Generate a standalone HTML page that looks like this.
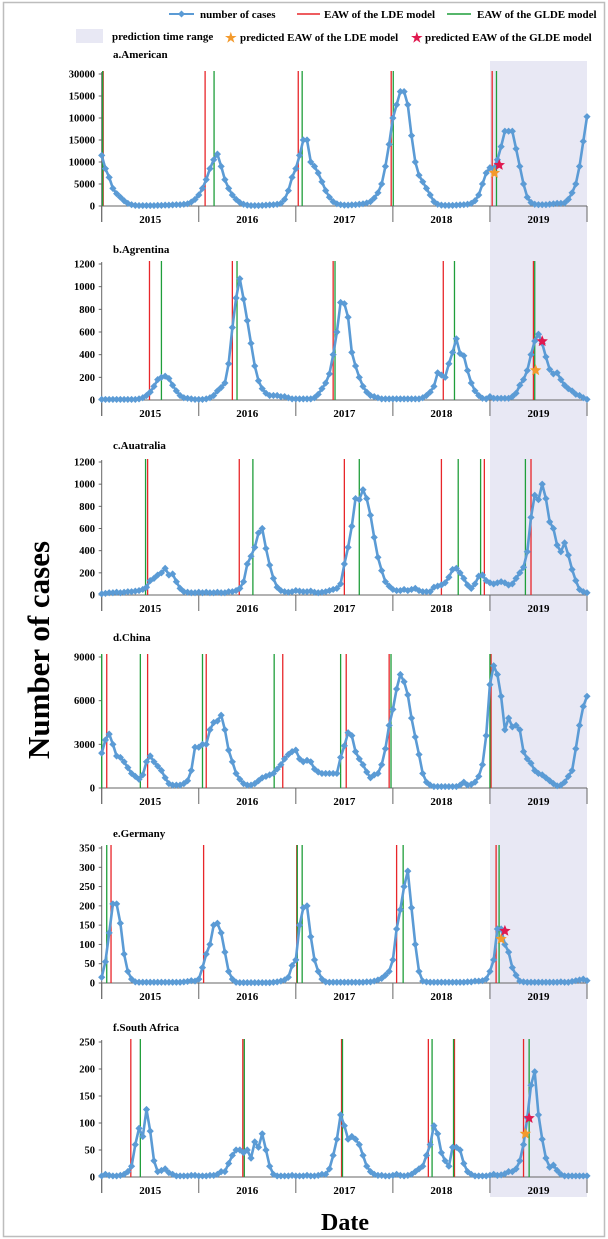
<!DOCTYPE html>
<html><head><meta charset="utf-8">
<style>
html,body{margin:0;padding:0;background:#fff;}
svg{display:block;font-family:"Liberation Serif",serif;font-weight:bold;}
</style></head>
<body>
<svg id="chart" width="608" height="1239" viewBox="0 0 608 1239" xmlns="http://www.w3.org/2000/svg">
<rect x="3.5" y="2.5" width="601" height="1234" fill="#fff" stroke="#bdbdbd" stroke-width="1.5"/>
<rect x="490" y="61" width="97" height="1136" fill="#e8e8f4"/>
<g font-size="11">
  <g>
    <line x1="169" y1="14" x2="194" y2="14" stroke="#5b9bd5" stroke-width="2"/>
    <path d="M181.5 10.5 L185 14 L181.5 17.5 L178 14 Z" fill="#5b9bd5"/>
    <text x="200" y="18">number  of cases</text>
  </g>
  <g>
    <line x1="297" y1="14" x2="320" y2="14" stroke="#e8262a" stroke-width="1.5"/>
    <text x="324" y="18">EAW of the LDE model</text>
  </g>
  <g>
    <line x1="447" y1="14" x2="471" y2="14" stroke="#1f9e3a" stroke-width="1.5"/>
    <text x="477" y="18">EAW of the GLDE model</text>
  </g>
  <g>
    <rect x="76" y="29" width="27" height="14" fill="#e8e8f4"/>
    <text x="112" y="40">prediction time range</text>
  </g>
  <g>
    <text x="225" y="42" fill="#f39a2c" font-size="13">★</text>
    <text x="240" y="41">predicted EAW of the LDE model</text>
  </g>
  <g>
    <text x="411" y="42" fill="#e0194f" font-size="13">★</text>
    <text x="425" y="41">predicted EAW of the GLDE model</text>
  </g>
</g>
<text x="0" y="0" font-size="31" text-anchor="middle" transform="translate(49,650) rotate(-90)">Number of cases</text>
<text x="345" y="1230" font-size="24" text-anchor="middle">Date</text>
<g id="panels"></g>
</svg>
<script>
const years = ['2015','2016','2017','2018','2019'];
// weekly biweekly-sampled case counts (index i -> week 2*i)
const seriesA = [11500,8500,6500,4000,2800,2000,1200,600,300,150,100,100,100,100,100,150,150,200,200,250,300,300,400,500,900,1500,2500,4000,6000,8500,10500,11800,9000,6000,4000,2500,1500,800,400,200,100,100,100,150,200,250,300,400,600,1500,3500,6500,8500,11500,15000,15000,10000,9000,7500,5500,3500,2000,1000,500,300,200,200,250,300,400,500,700,1000,1800,3000,5000,9000,14000,20000,23000,26000,26000,23000,16000,10000,7000,5500,4000,2500,1000,400,200,150,150,150,200,250,300,400,600,1200,2500,5000,7500,8700,8500,10500,13500,17000,17000,17000,13000,9000,5000,2000,800,400,300,300,300,400,500,600,600,700,1500,3000,5000,9000,14700,20300];
const seriesB = [5,5,5,5,5,5,5,5,5,5,10,20,40,70,120,180,200,210,190,130,80,40,20,15,10,5,5,5,10,20,40,80,110,150,320,640,900,1070,890,700,500,300,170,100,60,40,40,40,30,30,20,10,10,10,10,10,10,20,50,100,150,230,400,600,860,850,730,420,300,200,120,70,40,30,20,10,10,10,10,10,10,10,10,10,10,10,20,40,70,120,240,220,200,320,420,540,410,390,260,150,80,40,15,10,30,15,15,15,15,15,30,60,130,180,260,400,520,580,500,380,270,230,240,180,130,100,80,50,40,20,5];
const seriesC = [10,15,20,20,25,20,25,30,30,35,40,50,70,130,150,180,200,240,180,190,120,60,30,25,20,20,25,20,25,20,20,25,20,20,30,30,40,60,120,280,350,430,560,600,420,270,150,70,40,30,25,30,40,35,30,30,35,25,20,25,30,40,50,60,100,280,430,620,870,860,950,870,720,520,340,220,120,80,50,40,40,50,40,50,60,40,30,30,30,70,80,90,110,160,230,240,200,150,90,60,100,170,180,130,110,100,110,120,110,90,100,150,200,250,390,700,900,860,1000,870,660,600,450,390,470,360,230,130,50,30,20];
const seriesD = [2400,3300,3700,3000,2200,2100,1800,1400,1000,800,600,900,1800,2200,1800,1500,1200,700,300,200,200,200,300,500,1200,2800,2800,3000,3000,4000,4500,4600,5000,4000,2600,1800,1000,600,300,200,200,300,500,700,800,900,1000,1300,1600,2000,2300,2500,2600,2000,1800,1900,1800,1300,1100,1000,1000,1000,1000,1000,2100,2900,3800,3600,2500,2000,1600,1100,700,900,1000,1600,2700,4300,5400,6800,7800,7300,6400,4800,3500,2300,1000,400,200,100,100,100,100,100,100,100,200,400,200,250,400,800,1600,3600,7100,8400,7800,6300,4000,4800,4200,4300,4000,2500,2000,1700,1200,1000,900,700,500,300,150,200,400,800,1200,2700,4300,5600,6300];
const seriesE = [15,55,130,205,205,155,75,30,10,3,2,2,2,2,2,2,2,2,2,2,2,2,3,4,6,5,10,40,75,100,150,155,130,80,30,10,2,1,1,1,1,1,1,1,1,1,2,3,5,8,15,45,60,150,195,200,120,60,30,10,3,2,2,2,2,2,2,2,2,2,2,3,3,5,8,12,20,30,60,140,190,250,290,195,100,30,5,3,2,2,2,2,2,2,2,2,2,2,3,3,5,5,6,10,30,60,140,140,100,80,40,20,5,3,2,2,2,2,2,2,2,2,2,3,2,2,4,6,8,10,6];
const seriesF = [2,5,3,2,2,3,5,10,20,60,90,75,125,85,30,10,12,15,8,5,2,2,2,2,3,3,2,2,2,3,3,5,10,10,25,40,50,50,45,50,35,65,55,80,50,20,5,2,2,2,2,3,2,2,2,3,2,2,3,5,5,15,40,70,115,95,70,75,70,60,40,20,10,5,3,3,2,2,3,5,3,2,3,5,10,15,20,40,60,95,80,45,30,20,55,55,50,25,10,5,2,2,2,2,3,5,3,4,6,10,10,15,30,60,110,170,195,115,70,35,18,22,12,5,2,2,2,2,2,2,2];
// EAW onset weeks (since start of 2015)
const ldeA = [0.8,55.4,105.3,155.1,209.2];
const gldeA = [0.5,60.2,107.4,156.2,211.5];
const ldeB = [25.6,70,124,183,231.3];
const gldeB = [32,72.5,125,189,232];
const ldeC = [24.6,73.7,130,182,205,230];
const gldeC = [23.5,81,138,191,203,227];
const ldeD = [2.7,24.6,56,97,131,154,208.6];
const gldeD = [0,20.7,54,92.4,128,155,208];
const ldeE = [5,54.6,104.5,158,211.3];
const gldeE = [2.7,104.8,107.4,161.5,212.9];
const ldeF = [15.6,75.6,128.5,175,189,226];
const gldeF = [20.7,76.4,129,177,188.5,229];
// predicted EAW stars: [week, value]
const predLdeA = [210.4,7500];
const predGldeA = [213,9300];
const predLdeB = [232.5,262];
const predGldeB = [236,518];
const predLdeE = [214,114];
const predGldeE = [216,135];
const predLdeF = [227,80];
const predGldeF = [229,109];
// tick labels
const ticksA = ['0','5000','10000','15000','10000','15000','30000'];
const ticksB = ['0','200','400','600','800','1000','1200'];
const ticksC = ['0','200','400','600','800','1000','1200'];
const ticksD = ['0','3000','6000','9000'];
const ticksE = ['0','50','100','150','200','250','300','350'];
const ticksF = ['0','50','100','150','200','250'];

const panels = [
 {id:'a', title:'a.American', s:seriesA, lde:ldeA, glde:gldeA, pl:predLdeA, pg:predGldeA, ticks:ticksA, max:30000, top:74, zero:206, ty:58},
 {id:'b', title:'b.Agrentina', s:seriesB, lde:ldeB, glde:gldeB, pl:predLdeB, pg:predGldeB, ticks:ticksB, max:1200, top:264, zero:400, ty:253},
 {id:'c', title:'c.Auatralia', s:seriesC, lde:ldeC, glde:gldeC, pl:null, pg:null, ticks:ticksC, max:1200, top:462, zero:595, ty:449},
 {id:'d', title:'d.China', s:seriesD, lde:ldeD, glde:gldeD, pl:null, pg:null, ticks:ticksD, max:9000, top:657, zero:788, ty:641},
 {id:'e', title:'e.Germany', s:seriesE, lde:ldeE, glde:gldeE, pl:predLdeE, pg:predGldeE, ticks:ticksE, max:350, top:848, zero:983, ty:837},
 {id:'f', title:'f.South Africa', s:seriesF, lde:ldeF, glde:gldeF, pl:predLdeF, pg:predGldeF, ticks:ticksF, max:250, top:1042, zero:1177, ty:1031}
];
const NS='http://www.w3.org/2000/svg';
const X0=101.7, X1=587, WEEKS=260;
const xs = w => X0 + w*(X1-X0)/WEEKS;
function mk(tag, attrs, parent){
  const el=document.createElementNS(NS,tag);
  for(const k in attrs) el.setAttribute(k,attrs[k]);
  parent.appendChild(el); return el;
}
function star(cx,cy,r){
  let p=[];
  for(let k=0;k<10;k++){const a=-Math.PI/2+k*Math.PI/5;const rr=k%2?r*0.45:r;p.push((cx+rr*Math.cos(a)).toFixed(1)+','+(cy+rr*Math.sin(a)).toFixed(1));}
  return p.join(' ');
}
const root=document.getElementById('panels');
panels.forEach(P=>{
  const g=mk('g',{},root);
  
  
  const ys = v => P.zero - v/P.max*(P.zero-P.top);
  const t=mk('text',{x:113,y:P.ty,'font-size':11},g);
  t.textContent=P.title;
  
  
  const n=P.ticks.length-1;
  P.ticks.forEach((lb,k)=>{
    const v=P.max*k/n, y=ys(v);
    const tl=mk('text',{x:95,y:y+3.5,'font-size':10.5,'text-anchor':'end'},g);
    tl.textContent=lb;
    
    
    mk('line',{x1:X0-3,x2:X0,y1:y,y2:y,stroke:'#666','stroke-width':1},g);
  });
  const ax=mk('line',{x1:X0,x2:X0,y1:P.top-2,y2:P.zero+16,stroke:'#666','stroke-width':1},g);
  
  
  const xa=mk('line',{x1:X0,x2:X1,y1:P.zero,y2:P.zero,stroke:'#666','stroke-width':1},g);
  
  
  for(let k=0;k<=years.length;k++){
    const x=xs(k*52);
    mk('line',{x1:x,x2:x,y1:P.zero,y2:P.zero+16,stroke:'#666','stroke-width':1},g);
    if(k<years.length){
      const yl=mk('text',{x:xs(k*52+26),y:P.zero+17,'font-size':11,'text-anchor':'middle'},g);
      yl.textContent=years[k];
      
      
    }
  }
  P.lde.forEach(w=>{
    const l=mk('line',{x1:xs(w),x2:xs(w),y1:P.top-3,y2:P.zero,stroke:'#e8262a','stroke-width':1.3},g);
    
    
  });
  P.glde.forEach(w=>{
    const l=mk('line',{x1:xs(w),x2:xs(w),y1:P.top-3,y2:P.zero,stroke:'#1f9e3a','stroke-width':1.3},g);
    
    
  });
  const pts=P.s.map((v,i)=>xs(i*2).toFixed(1)+','+ys(v).toFixed(1)).join(' ');
  const pl=mk('polyline',{points:pts,fill:'none',stroke:'#5b9bd5','stroke-width':2.6,'stroke-linejoin':'round'},g);
  
  
  P.s.forEach((v,i)=>{
    const x=xs(i*2), y=ys(v);
    const m=mk('path',{d:`M${x} ${y-3.6}L${x+3.6} ${y}L${x} ${y+3.6}L${x-3.6} ${y}Z`,fill:'#5b9bd5'},g);
    
    
  });
  if(P.pl){
    const s1=mk('polygon',{points:star(xs(P.pl[0]),ys(P.pl[1]),6),fill:'#f39a2c'},g);
    
    
  }
  if(P.pg){
    const s2=mk('polygon',{points:star(xs(P.pg[0]),ys(P.pg[1]),6),fill:'#e0194f'},g);
    
    
  }
});
</script>
</body></html>
